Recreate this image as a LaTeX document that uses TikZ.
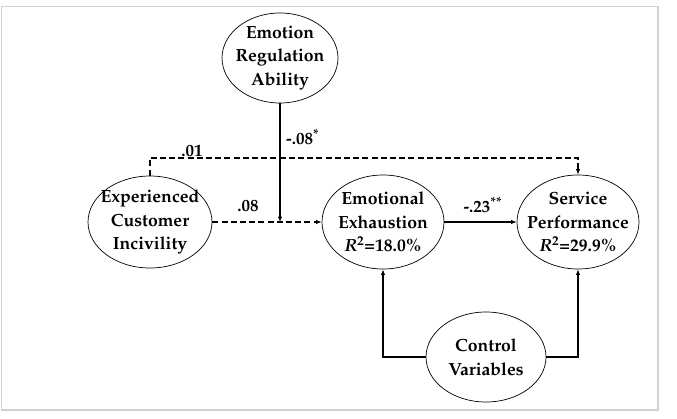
\documentclass[tikz,border=0pt]{standalone}
\usepackage[T1]{fontenc}
\usepackage{mathpazo}
\usetikzlibrary{shapes.geometric,arrows.meta}
\tikzset{
  ell/.style={draw=black, line width=0.7pt, ellipse, inner sep=0pt},
  txt/.style={align=center, inner sep=0pt, font=\fontsize{17.6}{23.5}\selectfont\bfseries},
  conn/.style={line width=1.6pt, -{Latex[length=5.5pt,width=4.5pt]}},
  dashconn/.style={conn, dash pattern=on 6pt off 3.2pt},
  lab/.style={font=\fontsize{17}{20}\selectfont\bfseries, inner sep=0pt}
}
\begin{document}
\begin{tikzpicture}[x=1pt,y=-1pt]
\useasboundingbox (0,0) rectangle (677,418);
\draw[black!18, line width=1.2pt] (1.5,6.5) rectangle (658,410);
\node[ell, minimum width=116pt, minimum height=90pt,
  label={[txt]center:Emotion\\Regulation\\Ability}] (era) at (280,58) {};
\node[ell, minimum width=124pt, minimum height=92pt,
  label={[txt]center:Experienced\\Customer\\Incivility}] (eci) at (150,222) {};
\node[ell, minimum width=122pt, minimum height=94pt,
  label={[txt]center:Emotional\\Exhaustion\\\textit{R}\textsuperscript{2}=18.0\%}] (ee) at (383,222) {};
\node[ell, minimum width=122pt, minimum height=94pt,
  label={[txt]center:Service\\Performance\\\textit{R}\textsuperscript{2}=29.9\%}] (sp) at (578,222) {};
\node[ell, minimum width=120pt, minimum height=90pt,
  label={[txt]center:Control\\Variables}] (cv) at (486,357) {};
\coordinate (top) at (0,158);
\coordinate (mod) at (era.south |- eci.east);
\draw[dashconn] (eci.north) -- (eci.north |- top) -| (sp.north);
\draw[dashconn] (eci.east) -- (ee.west);
\draw[conn] (era.south) -- (mod);
\draw[conn] (ee.east) -- (sp.west);
\draw[conn] (cv.west) -| (ee.south);
\draw[conn] (cv.east) -| (sp.south);
\node[lab] (l01) at (192,151) {.01};
\node[lab] (l08) at (248,206) {.08};
\node[lab, anchor=west] (lmod) at (286,137) {-.08\textsuperscript{*}};
\node[lab] (l23) at (483,205) {-.23\textsuperscript{**}};
\end{tikzpicture}
\end{document}
